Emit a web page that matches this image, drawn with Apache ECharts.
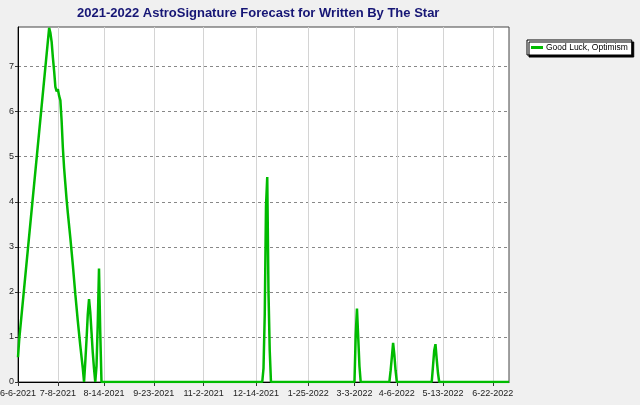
<!DOCTYPE html>
<html>
<head>
<meta charset="utf-8">
<script src="https://cdn.jsdelivr.net/npm/echarts@6/dist/echarts.min.js"></script>
<style>
html,body{margin:0;padding:0;background:#f0f0f0;}
#chart{width:640px;height:405px;}
</style>
</head>
<body>
<div id="chart"></div>
<script>
var titleText = '2021-2022 AstroSignature Forecast for Written By The Star';
var seriesName = 'Good Luck, Optimism';
var tickLabels = ['6-6-2021','7-8-2021','8-14-2021','9-23-2021','11-2-2021','12-14-2021','1-25-2022','3-3-2022','4-6-2022','5-13-2022','6-22-2022'];
var xStart = '2021-06-06';
var xEnd = '2022-07-05';
var yTicks = [0,1,2,3,4,5,6,7];
var yMax = 7.88;
var pointDates = [
 '2021-06-06','2021-06-07','2021-07-01','2021-07-02','2021-07-03','2021-07-04','2021-07-05','2021-07-06','2021-07-07','2021-07-08',
 '2021-07-09','2021-07-10','2021-07-11','2021-07-12','2021-07-13','2021-07-14','2021-07-15','2021-07-16','2021-07-18','2021-07-20',
 '2021-07-22','2021-07-24','2021-07-26','2021-07-28','2021-07-29','2021-07-30','2021-07-31','2021-08-01','2021-08-02','2021-08-03',
 '2021-08-04','2021-08-05','2021-08-06','2021-08-07','2021-08-08','2021-08-09','2021-08-10','2021-08-11','2021-08-12',
 '2021-12-19','2021-12-20','2021-12-21','2021-12-22','2021-12-23','2021-12-24','2021-12-25','2021-12-26',
 '2022-03-03','2022-03-04','2022-03-05','2022-03-06','2022-03-07','2022-03-08',
 '2022-03-31','2022-04-01','2022-04-02','2022-04-03','2022-04-04','2022-04-05','2022-04-06',
 '2022-05-04','2022-05-05','2022-05-06','2022-05-07','2022-05-08','2022-05-09','2022-05-10',
 '2022-07-05'
];
var pointValues = [
 0.55,0.95,7.86,7.75,7.55,7.2,6.9,6.55,6.45,6.5,
 6.35,6.25,5.8,5.2,4.75,4.4,4.05,3.75,3.2,2.6,
 1.95,1.35,0.8,0.3,0,0.45,0.95,1.5,1.84,1.55,
 1.1,0.65,0.3,0,0.35,1.3,2.52,1.1,0,
 0,0.3,1.5,3.9,4.55,2.0,0.7,0,
 0,1.05,1.63,1.0,0.35,0,
 0,0.25,0.55,0.87,0.6,0.25,0,
 0,0.35,0.7,0.84,0.5,0.2,0,
 0
];

var DAY = 86400000;
function isoToUTC(s){var p=s.split('-');return Date.UTC(+p[0],+p[1]-1,+p[2]);}
function labelToUTC(s){var p=s.split('-');return Date.UTC(+p[2],+p[0]-1,+p[1]);}
var t0 = isoToUTC(xStart);
function dayOf(t){return Math.round((t-t0)/DAY);}
function fmt(day){var d=new Date(t0+day*DAY);return (d.getUTCMonth()+1)+'-'+d.getUTCDate()+'-'+d.getUTCFullYear();}
var tickDays = tickLabels.map(function(s){return dayOf(labelToUTC(s));});
var data = pointDates.map(function(d,i){return [dayOf(isoToUTC(d)),pointValues[i]];});

var chart = echarts.init(document.getElementById('chart'), null, {renderer:'canvas'});
chart.setOption({
  backgroundColor:'#f0f0f0',
  animation:false,
  textStyle:{fontFamily:'Liberation Sans, Arial, sans-serif'},
  title:{
    text:titleText,
    left:77, top:7, padding:0,
    textStyle:{fontSize:13,fontWeight:'bold',color:'#161675',fontFamily:'Liberation Sans, Arial, sans-serif'}
  },
  legend:{
    data:[{name:seriesName, icon:'rect'}],
    left:527, top:40,
    orient:'vertical',
    padding:[3,4,3,4],
    itemWidth:12, itemHeight:3, itemGap:0,
    backgroundColor:'#ffffff',
    borderColor:'#000', borderWidth:1, borderRadius:0,
    shadowColor:'#000', shadowBlur:0, shadowOffsetX:2, shadowOffsetY:2,
    textStyle:{fontSize:8.5,color:'#000',padding:[0,0,0,-2]}
  },
  grid:{
    left:18, right:131, top:27, bottom:23,
    outerBoundsMode:'none',
    containLabel:false,
    show:true, backgroundColor:'#ffffff', borderColor:'#444', borderWidth:1
  },
  xAxis:{
    type:'value',
    min:0, max:dayOf(isoToUTC(xEnd)),
    axisLine:{show:true,onZero:false,lineStyle:{color:'#000',width:1}},
    axisTick:{show:true,length:4,customValues:tickDays,lineStyle:{color:'#333'}},
    axisLabel:{customValues:tickDays,formatter:function(v){return fmt(v);},fontSize:9,color:'#222',margin:7,showMinLabel:true},
    splitLine:{show:true,lineStyle:{color:'#d4d4d4',width:1,type:'solid'}}
  },
  yAxis:{
    type:'value',
    min:0, max:yMax,
    axisLine:{show:true,lineStyle:{color:'#000',width:1}},
    axisTick:{show:true,length:3,customValues:yTicks,lineStyle:{color:'#333'}},
    axisLabel:{customValues:yTicks,fontSize:9,color:'#222',margin:4},
    splitLine:{show:true,lineStyle:{color:'#888',width:1,type:[3,3]}}
  },
  series:[{
    name:seriesName,
    type:'line',
    data:data,
    showSymbol:false,
    symbol:'none',
    lineStyle:{color:'#00bb00',width:2.5},
    itemStyle:{color:'#00bb00'}
  }]
});
</script>
</body>
</html>
